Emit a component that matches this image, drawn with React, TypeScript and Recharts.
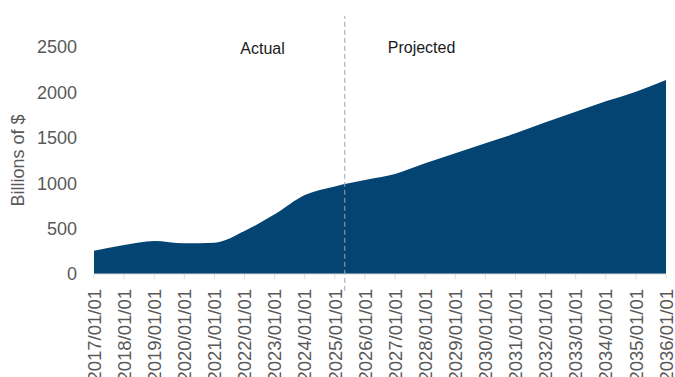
import React from 'react';
import { AreaChart, Area, XAxis, YAxis, ReferenceLine, ReferenceDot } from 'recharts';

const years = ['2017/01/01','2018/01/01','2019/01/01','2020/01/01','2021/01/01','2022/01/01','2023/01/01','2024/01/01','2025/01/01','2026/01/01','2027/01/01','2028/01/01','2029/01/01','2030/01/01','2031/01/01','2032/01/01','2033/01/01','2034/01/01','2035/01/01','2036/01/01'];
const values = [257, 319, 363, 338, 345, 474, 657, 870, 965, 1035, 1101, 1219, 1329, 1439, 1549, 1670, 1787, 1902, 2008, 2137];
const yTicks = [0, 500, 1000, 1500, 2000, 2500];
const dividerPosition = 8.33;
const actualLabel = { x: 5.6, y: 2490, text: 'Actual' };
const projectedLabel = { x: 10.88, y: 2495, text: 'Projected' };

const data = years.map((label, i) => ({ i, label, value: values[i] }));
const FONT = '"Liberation Sans", Arial, sans-serif';

const XTick = (props: any) => {
  const { x, y, payload } = props;
  return (
    <g transform={`translate(${x},${y})`}>
      <text transform="rotate(-90)" x={-8} y={0} dy="0.36em" textAnchor="end" fill="#595959" fontSize={18.5} fontFamily={FONT}>
        {years[payload.value]}
      </text>
    </g>
  );
};

export default function App() {
  return (
    <div style={{ position: 'absolute', left: 0, top: 0, width: 675, height: 377, background: '#fff' }}>
      <AreaChart width={675} height={377} data={data} margin={{ top: 47, right: 9, bottom: 0, left: 0 }}>
        <XAxis
          dataKey="i"
          type="number"
          domain={[0, 19]}
          ticks={data.map(d => d.i)}
          interval={0}
          height={103}
          stroke="#d9d9d9"
          tickLine={{ stroke: '#d9d9d9' }}
          tickSize={5}
          tick={<XTick />}
        />
        <YAxis
          domain={[0, 2500]}
          ticks={yTicks}
          width={94}
          axisLine={false}
          tickLine={false}
          tickMargin={11}
          tick={{ fill: '#595959', fontSize: 18, fontFamily: FONT }}
          label={{ value: 'Billions of $', angle: -90, position: 'insideLeft', offset: 18, style: { fill: '#595959', fontSize: 18, fontFamily: FONT, textAnchor: 'middle' } }}
        />
        <Area type="monotone" dataKey="value" stroke="none" fill="#044472" fillOpacity={1} isAnimationActive={false} />
        <ReferenceLine
          segment={[{ x: dividerPosition, y: -185 }, { x: dividerPosition, y: 2840 }]}
          ifOverflow="visible"
          stroke="#9aa5b1"
          strokeWidth={1}
          strokeDasharray="5 3"
        />
        <ReferenceDot x={actualLabel.x} y={actualLabel.y} r={0} ifOverflow="visible" fill="none" stroke="none"
          label={{ value: actualLabel.text, position: 'center', fill: '#1a1a1a', fontSize: 16, fontFamily: FONT }} />
        <ReferenceDot x={projectedLabel.x} y={projectedLabel.y} r={0} ifOverflow="visible" fill="none" stroke="none"
          label={{ value: projectedLabel.text, position: 'center', fill: '#1a1a1a', fontSize: 16, fontFamily: FONT }} />
      </AreaChart>
    </div>
  );
}
